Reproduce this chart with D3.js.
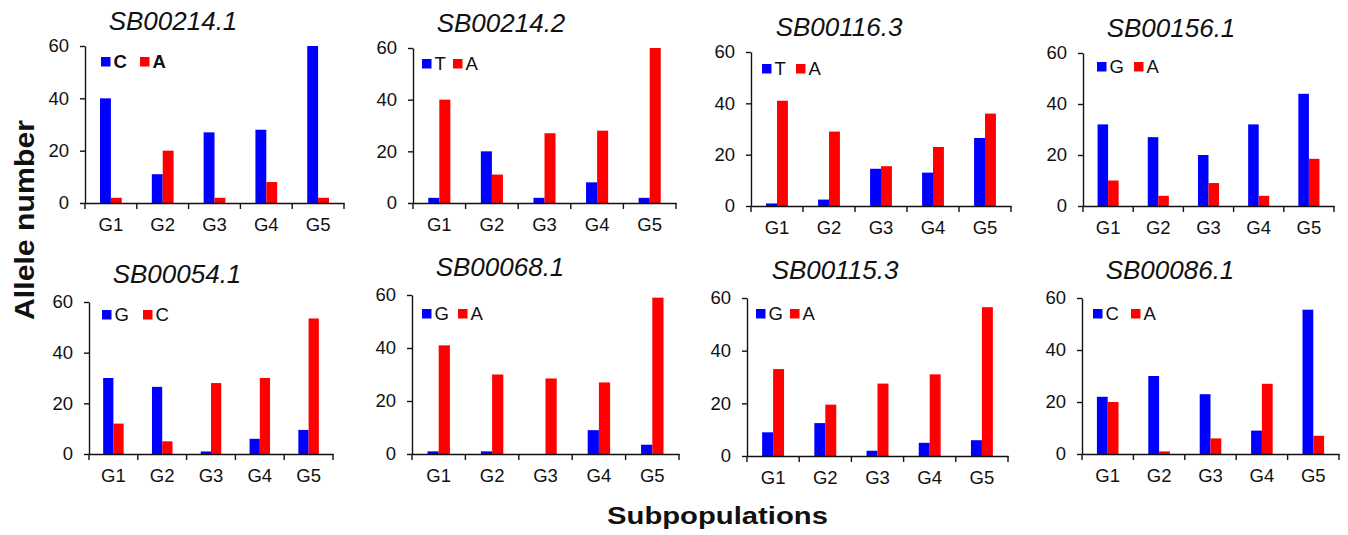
<!DOCTYPE html>
<html>
<head>
<meta charset="utf-8">
<script src="https://cdn.jsdelivr.net/npm/d3@7"></script>
<style>
  html, body { margin: 0; padding: 0; background: #fff; }
  svg { display: block; font-family: "Liberation Sans", Arial, sans-serif; }
</style>
</head>
<body>
<svg id="chart" width="1348" height="535"></svg>
<script>
// Marker names, one panel each
const markers = ["SB00214.1", "SB00214.2", "SB00116.3", "SB00156.1",
                 "SB00054.1", "SB00068.1", "SB00115.3", "SB00086.1"];
// Subpopulations on the x axis
const groups = ["G1", "G2", "G3", "G4", "G5"];
// The two alleles of each marker
const alleleFirst  = ["C", "T", "T", "G", "G", "G", "G", "C"];
const alleleSecond = ["A", "A", "A", "A", "C", "A", "A", "A"];
// Allele counts per subpopulation (first allele, blue)
const firstCounts = [
  [40, 11, 27, 28, 60],
  [2, 20, 2, 8, 2],
  [1, 2.5, 14.5, 13, 26.5],
  [32, 27, 20, 32, 44],
  [30, 26.5, 1, 6, 9.5],
  [1, 1, 0, 9, 3.5],
  [9, 12.5, 2, 5, 6],
  [22, 30, 23, 9, 55.5]
];
// Allele counts per subpopulation (second allele, red)
const secondCounts = [
  [2, 20, 2, 8, 2],
  [40, 11, 27, 28, 60],
  [41, 29, 15.5, 23, 36],
  [10, 4, 9, 4, 18.5],
  [12, 5, 28, 30, 53.5],
  [41, 30, 28.5, 27, 59],
  [33, 19.5, 27.5, 31, 56.5],
  [20, 1, 6, 27, 7]
];
const yTicks = [0, 20, 40, 60];
const yMax = 60;

// Panel frames: plot box and legend placement
const frames = [
  { left: 85,   right: 344,  bottom: 203, top: 46,  lb: 16, lr: 55, ly: 11, boldLegend: true },
  { left: 413,  right: 676,  bottom: 203, top: 48,  lb: 9,  lr: 40, ly: 11 },
  { left: 751,  right: 1011, bottom: 206, top: 52,  lb: 11, lr: 45, ly: 12 },
  { left: 1083, right: 1334, bottom: 206, top: 53,  lb: 14, lr: 51, ly: 9 },
  { left: 89,   right: 333,  bottom: 454, top: 302, lb: 13, lr: 54, ly: 8 },
  { left: 412,  right: 679,  bottom: 454, top: 295, lb: 10, lr: 46, ly: 14 },
  { left: 747,  right: 1008, bottom: 456, top: 298, lb: 9,  lr: 43, ly: 11 },
  { left: 1082, right: 1339, bottom: 454, top: 298, lb: 11, lr: 49, ly: 11 }
];

const BLUE = "#0000ff", RED = "#ff0000", INK = "#111";
const TICK_FONT = 18.5;
const svg = d3.select("#chart");

markers.forEach((name, i) => {
  const f = frames[i];
  const g = svg.append("g");

  const x = d3.scaleBand().domain(groups).range([f.left, f.right]).padding(0);
  const bw = x.bandwidth();
  const xInner = d3.scaleBand().domain(["first", "second"])
    .range([bw * 0.29, bw * 0.71]).padding(0);
  const y = d3.scaleLinear().domain([0, yMax]).range([f.bottom, f.top]);

  // Bars
  const rows = groups.map((grp, j) => ({ grp, first: firstCounts[i][j], second: secondCounts[i][j] }));
  const grp = g.selectAll("g.grp").data(rows).join("g")
    .attr("transform", d => `translate(${x(d.grp)},0)`);
  grp.append("rect")
    .attr("x", xInner("first")).attr("width", xInner.bandwidth())
    .attr("y", d => y(d.first)).attr("height", d => y(0) - y(d.first))
    .attr("fill", BLUE);
  grp.append("rect")
    .attr("x", xInner("second")).attr("width", xInner.bandwidth())
    .attr("y", d => y(d.second)).attr("height", d => y(0) - y(d.second))
    .attr("fill", RED);

  // Y axis
  const ya = g.append("g").attr("transform", `translate(${f.left},0)`)
    .call(d3.axisLeft(y).tickValues(yTicks).tickSize(5).tickSizeOuter(0).tickPadding(11));
  ya.select(".domain").attr("stroke", INK).attr("stroke-width", 1.4);
  ya.selectAll(".tick line").attr("stroke", INK).attr("stroke-width", 1.4);
  ya.selectAll(".tick text").attr("font-size", TICK_FONT).attr("fill", INK)
    .attr("font-family", "Liberation Sans, Arial, sans-serif");

  // X axis: labels at band centres, ticks at band boundaries
  const xa = g.append("g").attr("transform", `translate(0,${f.bottom})`)
    .call(d3.axisBottom(x).tickSize(0).tickSizeOuter(0).tickPadding(15));
  xa.select(".domain").attr("stroke", INK).attr("stroke-width", 1.4);
  xa.selectAll(".tick text").attr("font-size", TICK_FONT).attr("fill", INK)
    .attr("font-family", "Liberation Sans, Arial, sans-serif");
  const bounds = groups.map(d => x(d)).concat([x.range()[1]]);
  xa.selectAll("line.bound").data(bounds).join("line")
    .attr("class", "bound")
    .attr("x1", d => d).attr("x2", d => d)
    .attr("y1", 0).attr("y2", 6)
    .attr("stroke", INK).attr("stroke-width", 1.4);

  // Title
  g.append("text")
    .attr("x", f.left + 88).attr("y", f.top - (i < 4 ? 16 : 19))
    .attr("text-anchor", "middle")
    .attr("font-size", 26).attr("font-style", "italic")
    .attr("fill", INK)
    .text(name);

  // Legend
  const sq = 9.5;
  const ly = f.top + f.ly;
  const legend = [
    { dx: f.lb, color: BLUE, label: alleleFirst[i] },
    { dx: f.lr, color: RED,  label: alleleSecond[i] }
  ];
  const lg = g.selectAll("g.leg").data(legend).join("g")
    .attr("transform", d => `translate(${f.left + d.dx},${ly})`);
  lg.append("rect").attr("width", sq).attr("height", sq).attr("fill", d => d.color);
  lg.append("text")
    .attr("x", sq + 3).attr("y", sq / 2 + 6.6)
    .attr("font-size", 18.5)
    .attr("font-weight", f.boldLegend ? "bold" : "normal")
    .attr("fill", INK)
    .text(d => d.label);
});

// Shared axis titles
svg.append("text")
  .attr("transform", "translate(34,220) rotate(-90)")
  .attr("text-anchor", "middle")
  .attr("font-size", 28).attr("font-weight", "bold").attr("fill", INK)
  .attr("textLength", 200).attr("lengthAdjust", "spacingAndGlyphs")
  .text("Allele number");

svg.append("text")
  .attr("x", 717.5).attr("y", 524)
  .attr("text-anchor", "middle")
  .attr("font-size", 24).attr("font-weight", "bold").attr("fill", INK)
  .attr("textLength", 221).attr("lengthAdjust", "spacingAndGlyphs")
  .text("Subpopulations");
</script>
</body>
</html>
